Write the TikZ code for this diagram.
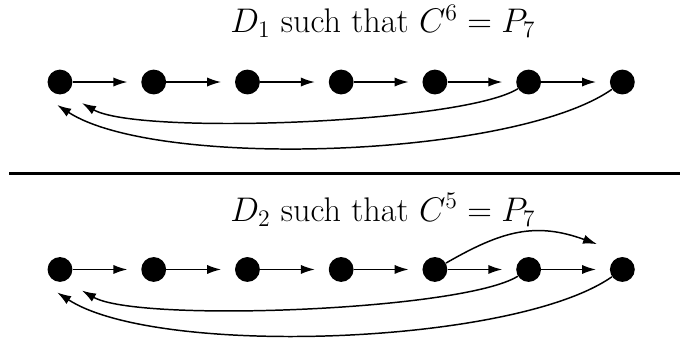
\documentclass[tikz,border=0pt]{standalone}
\usetikzlibrary{arrows.meta, calc, math}

\begin{document}
\begin{tikzpicture}[
  dot/.style={circle, fill=black, inner sep=0pt, minimum size=0.53cm},
  link/.style={-{Latex[length=8.5pt,width=5.6pt]}, line width=0.9pt},
]

\tikzmath{
\d = 2; % distance between points
\h = 4; % distance between rows
}

\useasboundingbox (-1.28,1.75) rectangle (13.23,-5.57);

% the two rows of points
\foreach \i in {1, ..., 7}{
  \node[dot] (a\i) at ({(\i-1)*\d}, 0) {};
  \node[dot] (b\i) at ({(\i-1)*\d}, -\h) {};
}

\node[anchor=base, font=\huge] (title1) at (6.89,1.05) {$D_1$ such that $C^6 = P_7$};
\node[anchor=base, font=\huge] (title2) at (6.89,{1.03-\h}) {$D_2$ such that $C^5 = P_7$};

\draw[line width=1.4pt] (-1.08,-1.95) -- (13.3,-1.95);

% the path edges
\foreach \i [evaluate=\i as \j using int(\i+1)] in {1, ..., 6}{
  \draw[link, shorten >=0.29cm] (a\i) -- (a\j);
  \draw[link, shorten >=0.29cm] (b\i) -- (b\j);
}

% end points of the back edges
\foreach \r in {a, b}{
  \coordinate (\r1in) at ($(\r1)+(0.47,-0.45)$);
  \coordinate (\r1out) at ($(\r1)+(-0.06,-0.49)$);
  \draw[link] (\r6) to[out=212, in=-30, looseness=0.38] (\r1in);
  \draw[link] (\r7) to[out=215, in=-33, looseness=0.55] (\r1out);
}
\coordinate (b7top) at ($(b7)+(-0.54,0.54)$);
\draw[link] (b5) to[out=30, in=160, looseness=1.1] (b7top);

\end{tikzpicture}
\end{document}
